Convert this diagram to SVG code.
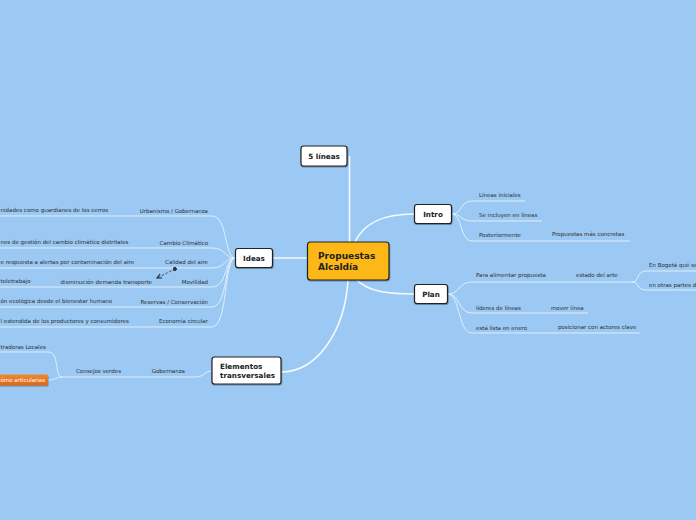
<svg xmlns="http://www.w3.org/2000/svg" width="696" height="520" viewBox="0 0 696 520">
<defs>
<style>
.bg{fill:#9BC9F4}
.node{fill:#fff;stroke:#222;stroke-width:1.2}
.root{fill:#FDB714;stroke:#222;stroke-width:1.2}
.nt{font-family:"DejaVu Sans",Verdana,sans-serif;font-weight:bold;font-size:7.2px;fill:#222}
.rt{font-family:"DejaVu Sans",Verdana,sans-serif;font-weight:bold;font-size:9px;fill:#222}
.lt{font-family:"DejaVu Sans",Verdana,sans-serif;font-size:5.5px;fill:#2d2d2d}
.ot{font-family:"DejaVu Sans",Verdana,sans-serif;font-size:5.5px;fill:#fff}
.main{fill:none;stroke:#fff;stroke-width:1.6;stroke-opacity:0.9}
.sub{fill:none;stroke:#EAF4FD;stroke-width:1;stroke-opacity:0.85}
.rel{fill:none;stroke:#333;stroke-width:0.8;stroke-dasharray:2.5,1.6}
</style>
<marker id="arr" viewBox="0 0 8 8" refX="7" refY="4" markerWidth="6" markerHeight="6" orient="auto" markerUnits="userSpaceOnUse">
<path d="M1,1 L7,4 L1,7" fill="none" stroke="#222" stroke-width="1.4"/>
</marker>
<marker id="sq" viewBox="0 0 6 6" refX="3" refY="3" markerWidth="4" markerHeight="4" orient="auto" markerUnits="userSpaceOnUse">
<rect x="0" y="0" width="6" height="6" fill="#333"/>
</marker>
<linearGradient id="og" x1="0" y1="0" x2="0" y2="1">
<stop offset="0" stop-color="#F08A2E"/>
<stop offset="1" stop-color="#D9661A"/>
</linearGradient>
<filter id="sh" x="-20%" y="-20%" width="140%" height="150%">
<feDropShadow dx="0.5" dy="1" stdDeviation="0.6" flood-color="#000" flood-opacity="0.35"/>
</filter>
</defs>
<rect class="bg" x="0" y="0" width="696" height="520"/>

<g id="connectors">
<path class="main" d="M349.5,156 V242"/>
<path class="main" d="M355,242 C364,222 384,214 414,214"/>
<path class="main" d="M357,280 C368,292 390,294 414,294"/>
<path class="main" d="M273,258 H307"/>
<path class="main" d="M348,280 C345,330 318,372 281,372"/>
<path class="sub" d="M235,258 C224,258 228,216 212,216 H0"/>
<path class="sub" d="M235,258 C224,258 226,248 212,248 H0"/>
<path class="sub" d="M235,258 C224,258 226,268 212,268 H0"/>
<path class="sub" d="M235,258 C224,258 228,287 212,287 H0"/>
<path class="sub" d="M235,258 C224,258 228,307 212,307 H0"/>
<path class="sub" d="M235,258 C224,258 228,327 212,327 H0"/>
<path class="sub" d="M212,371 C204,371 204,377 196,377 H62"/>
<path class="sub" d="M62,377 C54,377 60,352 48,352 H0"/>
<path class="sub" d="M62,377 C56,377 56,380 48,380"/>
<path class="sub" d="M452,214 C462,214 460,201 472,201 H525"/>
<path class="sub" d="M452,214 C462,214 460,221 472,221 H542"/>
<path class="sub" d="M452,214 C462,214 460,241 472,241 H630"/>
<path class="sub" d="M448,294 C460,294 458,282 472,282 H632"/>
<path class="sub" d="M632,282 C640,282 636,271 646,271 H696"/>
<path class="sub" d="M632,282 C640,282 636,290 646,290 H696"/>
<path class="sub" d="M448,294 C460,294 458,313 472,313 H588"/>
<path class="sub" d="M448,294 C460,294 458,333 472,333 H640"/>
<path class="rel" d="M175,269 L157,278" marker-start="url(#sq)" marker-end="url(#arr)"/>
</g>

<g id="root">
<rect class="root" x="307.5" y="242" width="81.5" height="38" rx="3" filter="url(#sh)"/>
<text class="rt" x="318" y="258.5">Propuestas</text>
<text class="rt" x="318" y="270">Alcaldía</text>
</g>

<g id="n-5lineas">
<rect class="node" x="301" y="146" width="46" height="20" rx="2.5" filter="url(#sh)"/>
<text class="nt" x="324" y="158.5" text-anchor="middle">5 líneas</text>
</g>

<g id="n-intro">
<rect class="node" x="414.5" y="204.5" width="37" height="19" rx="2.5" filter="url(#sh)"/>
<text class="nt" x="433" y="216.5" text-anchor="middle">Intro</text>
</g>

<g id="n-plan">
<rect class="node" x="414.5" y="284.5" width="33" height="19" rx="2.5" filter="url(#sh)"/>
<text class="nt" x="431" y="296.5" text-anchor="middle">Plan</text>
</g>

<g id="n-ideas">
<rect class="node" x="235.5" y="248.5" width="37" height="19" rx="2.5" filter="url(#sh)"/>
<text class="nt" x="254" y="260.5" text-anchor="middle">Ideas</text>
</g>

<g id="n-elementos">
<rect class="node" x="212" y="357" width="69" height="27" rx="2.5" filter="url(#sh)"/>
<text class="nt" x="220" y="368.5">Elementos</text>
<text class="nt" x="220" y="378">transversales</text>
</g>

<g id="n-urbanismo"><text class="lt" x="208" y="212.5" text-anchor="end">Urbanismo / Gobernanza</text></g>
<g id="n-urbanismo-1"><text class="lt" x="0.5" y="211.5">nidades como guardianes de los cerros</text></g>
<g id="n-cambio"><text class="lt" x="208" y="244.5" text-anchor="end">Cambio Climático</text></g>
<g id="n-cambio-1"><text class="lt" x="0.5" y="244">nes de gestión del cambio climático distritales</text></g>
<g id="n-calidad"><text class="lt" x="208" y="264" text-anchor="end">Calidad del aire</text></g>
<g id="n-calidad-1"><text class="lt" x="0.5" y="263.5">e respuesta a alertas por contaminación del aire</text></g>
<g id="n-movilidad"><text class="lt" x="208" y="284" text-anchor="end">Movilidad</text></g>
<g id="n-movilidad-1"><text class="lt" x="152" y="284" text-anchor="end">disminución demanda transporte</text></g>
<g id="n-movilidad-2"><text class="lt" x="0.5" y="283">teletrabajo</text></g>
<g id="n-reservas"><text class="lt" x="208" y="303.5" text-anchor="end">Reservas / Conservación</text></g>
<g id="n-reservas-1"><text class="lt" x="0.5" y="303">ón ecológica desde el bienestar humano</text></g>
<g id="n-economia"><text class="lt" x="208" y="323" text-anchor="end">Economía circular</text></g>
<g id="n-economia-1"><text class="lt" x="0.5" y="323">l estendida de los productores y consumidores</text></g>

<g id="n-gobernanza"><text class="lt" x="185" y="373" text-anchor="end">Gobernanza</text></g>
<g id="n-consejos"><text class="lt" x="76" y="373">Consejos verdes</text></g>
<g id="n-locales"><text class="lt" x="0.5" y="348.5">tradoras Locales</text></g>
<g id="n-articular">
<rect x="-3" y="374.5" width="51" height="11" rx="1.5" fill="url(#og)" filter="url(#sh)"/>
<text class="ot" x="0.5" y="382">ómo articularias</text>
</g>

<g id="n-lineas-iniciales"><text class="lt" x="479" y="197">Líneas iniciales</text></g>
<g id="n-se-incluyen"><text class="lt" x="479" y="217">Se incluyen en líneas</text></g>
<g id="n-posteriormente"><text class="lt" x="479" y="237">Posteriormente</text></g>
<g id="n-propuestas-concretas"><text class="lt" x="552" y="235.5">Propuestas más concretas</text></g>

<g id="n-para-alimentar"><text class="lt" x="476" y="277">Para alimentar propuesta</text></g>
<g id="n-estado"><text class="lt" x="576" y="277">estado del arte</text></g>
<g id="n-bogota"><text class="lt" x="649" y="267">En Bogotá qué se</text></g>
<g id="n-otras"><text class="lt" x="649" y="287">en otras partes d</text></g>
<g id="n-lideres"><text class="lt" x="476" y="310">líderes de líneas</text></g>
<g id="n-mover"><text class="lt" x="551" y="310">mover línea</text></g>
<g id="n-lista"><text class="lt" x="476" y="330">está lista en enero</text></g>
<g id="n-posicionar"><text class="lt" x="558" y="329">posicionar con actores clave</text></g>
</svg>
